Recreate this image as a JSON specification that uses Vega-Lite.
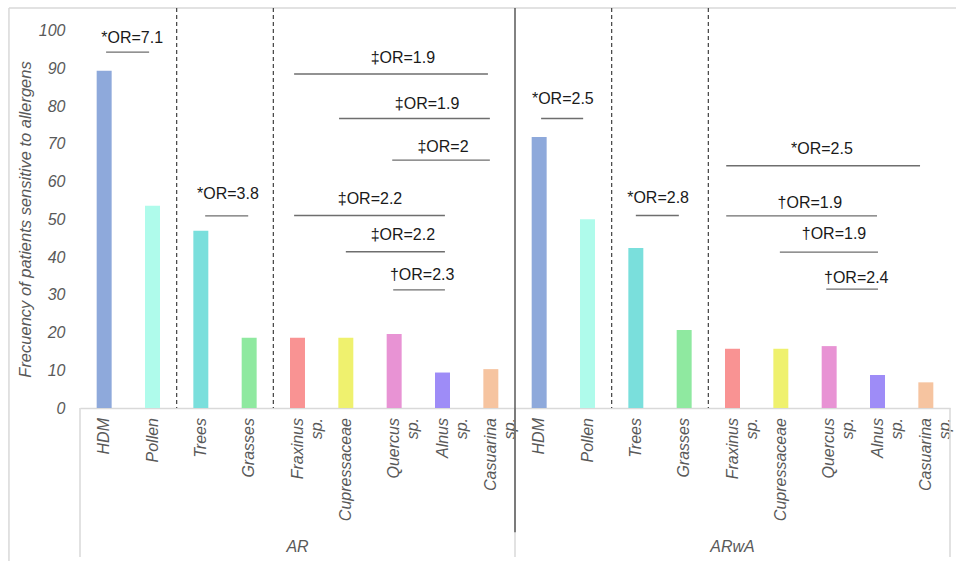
{
  "$schema": "https://vega.github.io/schema/vega-lite/v6.json",
  "width": 870,
  "height": 400,
  "autosize": {"type": "none"},
  "padding": {"left": 80, "top": 8, "right": 6, "bottom": 153},
  "background": "white",
  "config": {"view": {"stroke": null}, "font": "Liberation Sans"},
  "datasets": {
    "bars": [
      {"group": "AR", "key": "AR HDM", "name": "HDM", "sub": "", "value": 89.4},
      {"group": "AR", "key": "AR Pollen", "name": "Pollen", "sub": "", "value": 53.6},
      {"group": "AR", "key": "AR Trees", "name": "Trees", "sub": "", "value": 47.0},
      {"group": "AR", "key": "AR Grasses", "name": "Grasses", "sub": "", "value": 18.6},
      {"group": "AR", "key": "AR Fraxinus", "name": "Fraxinus", "sub": "sp.", "value": 18.6},
      {"group": "AR", "key": "AR Cupressaceae", "name": "Cupressaceae", "sub": "", "value": 18.6},
      {"group": "AR", "key": "AR Quercus", "name": "Quercus", "sub": "sp.", "value": 19.6},
      {"group": "AR", "key": "AR Alnus", "name": "Alnus", "sub": "sp.", "value": 9.4},
      {"group": "AR", "key": "AR Casuarina", "name": "Casuarina", "sub": "sp.", "value": 10.3},
      {"group": "ARwA", "key": "ARwA HDM", "name": "HDM", "sub": "", "value": 71.8},
      {"group": "ARwA", "key": "ARwA Pollen", "name": "Pollen", "sub": "", "value": 50.0},
      {"group": "ARwA", "key": "ARwA Trees", "name": "Trees", "sub": "", "value": 42.4},
      {"group": "ARwA", "key": "ARwA Grasses", "name": "Grasses", "sub": "", "value": 20.7},
      {"group": "ARwA", "key": "ARwA Fraxinus", "name": "Fraxinus", "sub": "sp.", "value": 15.7},
      {"group": "ARwA", "key": "ARwA Cupressaceae", "name": "Cupressaceae", "sub": "", "value": 15.7},
      {"group": "ARwA", "key": "ARwA Quercus", "name": "Quercus", "sub": "sp.", "value": 16.4},
      {"group": "ARwA", "key": "ARwA Alnus", "name": "Alnus", "sub": "sp.", "value": 8.75},
      {"group": "ARwA", "key": "ARwA Casuarina", "name": "Casuarina", "sub": "sp.", "value": 6.8}
    ],
    "notes": [
      {"label": "*OR=7.1", "x1": 0.54, "x2": 1.43, "y": 94.3, "xt": 1.08, "yt": 98.0},
      {"label": "*OR=3.8", "x1": 2.59, "x2": 3.48, "y": 50.9, "xt": 3.06, "yt": 56.7},
      {"label": "‡OR=1.9", "x1": 4.43, "x2": 8.44, "y": 88.5, "xt": 6.68, "yt": 92.7},
      {"label": "‡OR=1.9", "x1": 5.36, "x2": 8.48, "y": 76.7, "xt": 7.18, "yt": 80.6},
      {"label": "‡OR=2", "x1": 6.46, "x2": 8.48, "y": 65.7, "xt": 7.51, "yt": 69.2},
      {"label": "‡OR=2.2", "x1": 4.43, "x2": 7.55, "y": 51.0, "xt": 6.0, "yt": 55.4},
      {"label": "‡OR=2.2", "x1": 5.5, "x2": 7.55, "y": 41.4, "xt": 6.68, "yt": 45.8},
      {"label": "†OR=2.3", "x1": 6.48, "x2": 7.55, "y": 31.3, "xt": 7.08, "yt": 35.2},
      {"label": "*OR=2.5", "x1": 9.54, "x2": 10.41, "y": 76.7, "xt": 9.99, "yt": 81.9},
      {"label": "*OR=2.8", "x1": 11.5, "x2": 12.39, "y": 51.0, "xt": 11.96, "yt": 55.6},
      {"label": "*OR=2.5", "x1": 13.37, "x2": 17.38, "y": 64.2, "xt": 15.35, "yt": 68.6},
      {"label": "†OR=1.9", "x1": 13.37, "x2": 16.49, "y": 50.9, "xt": 15.1, "yt": 54.4},
      {"label": "†OR=1.9", "x1": 14.48, "x2": 16.51, "y": 41.3, "xt": 15.6, "yt": 46.1},
      {"label": "†OR=2.4", "x1": 15.44, "x2": 16.51, "y": 31.5, "xt": 16.06, "yt": 34.5}
    ]
  },
  "layer": [
    {
      "layer": [
        {
          "data": {"name": "bars"},
          "mark": {"type": "bar"},
          "encoding": {
            "x": {"field": "key", "type": "nominal", "sort": null,
                  "scale": {"paddingInner": 0.69, "paddingOuter": 0.345},
                  "axis": {"labels": false, "ticks": false, "title": null, "domainColor": "#d9d9d9", "domainWidth": 1.5}},
            "y": {"field": "value", "type": "quantitative",
                  "scale": {"domain": [0, 106], "nice": false, "zero": false},
                  "axis": {"values": [0, 10, 20, 30, 40, 50, 60, 70, 80, 90, 100], "domain": false, "ticks": false, "grid": false,
                           "labelFont": "Liberation Sans", "labelFontStyle": "italic", "labelFontSize": 16, "labelColor": "#595959", "labelPadding": 15,
                           "title": "Frecuency of patients sensitive to allergens", "titleFont": "Liberation Sans", "titleFontStyle": "italic", "titleFontWeight": "normal",
                           "titleFontSize": 16.5, "titleColor": "#595959", "titleX": -55, "titleY": 211, "titleAngle": 270, "titleAlign": "center", "titleBaseline": "middle"}},
            "color": {"field": "name", "type": "nominal", "legend": null,
                      "scale": {"domain": ["HDM", "Pollen", "Trees", "Grasses", "Fraxinus", "Cupressaceae", "Quercus", "Alnus", "Casuarina"],
                                "range": ["#8EA9DB", "#AFFBEB", "#7ADFDC", "#8FE9A0", "#F99393", "#EFF16E", "#E893D4", "#9E8CF7", "#F6C4A0"]}}
          }
        },
        {
          "data": {"name": "bars"},
          "mark": {"type": "text", "angle": 270, "align": "right", "baseline": "middle", "dx": -10, "font": "Liberation Sans", "fontStyle": "italic", "fontSize": 16, "color": "#595959"},
          "encoding": {
            "x": {"field": "key", "type": "nominal", "sort": null},
            "y": {"datum": 0, "scale": {"domain": [0, 106], "nice": false, "zero": false},
                  "axis": {"values": [0, 10, 20, 30, 40, 50, 60, 70, 80, 90, 100], "domain": false, "ticks": false, "grid": false,
                           "labelFont": "Liberation Sans", "labelFontStyle": "italic", "labelFontSize": 16, "labelColor": "#595959", "labelPadding": 15,
                           "title": "Frecuency of patients sensitive to allergens", "titleFont": "Liberation Sans", "titleFontStyle": "italic", "titleFontWeight": "normal",
                           "titleFontSize": 16.5, "titleColor": "#595959", "titleX": -55, "titleY": 211, "titleAngle": 270, "titleAlign": "center", "titleBaseline": "middle"}},
            "text": {"field": "name"}
          }
        },
        {
          "data": {"name": "bars"},
          "transform": [{"filter": "datum.sub != ''"}],
          "mark": {"type": "text", "angle": 270, "align": "right", "baseline": "middle", "dx": -10, "dy": 19, "font": "Liberation Sans", "fontStyle": "italic", "fontSize": 16, "color": "#595959"},
          "encoding": {
            "x": {"field": "key", "type": "nominal", "sort": null},
            "y": {"datum": 0, "scale": {"domain": [0, 106], "nice": false, "zero": false},
                  "axis": {"values": [0, 10, 20, 30, 40, 50, 60, 70, 80, 90, 100], "domain": false, "ticks": false, "grid": false,
                           "labelFont": "Liberation Sans", "labelFontStyle": "italic", "labelFontSize": 16, "labelColor": "#595959", "labelPadding": 15,
                           "title": "Frecuency of patients sensitive to allergens", "titleFont": "Liberation Sans", "titleFontStyle": "italic", "titleFontWeight": "normal",
                           "titleFontSize": 16.5, "titleColor": "#595959", "titleX": -55, "titleY": 211, "titleAngle": 270, "titleAlign": "center", "titleBaseline": "middle"}},
            "text": {"field": "sub"}
          }
        }
      ]
    },
    {
      "layer": [
        {
          "data": {"values": [
            {"x": -1.47, "x2": 18.2, "y": 106, "y2": 106},
            {"x": -1.47, "x2": -1.47, "y": 106, "y2": -40.6}
          ]},
          "mark": {"type": "rule", "color": "#d9d9d9", "strokeWidth": 1.5},
          "encoding": {
            "x": {"field": "x", "type": "quantitative", "scale": {"domain": [0, 18], "nice": false, "zero": false}, "axis": null},
            "x2": {"field": "x2"},
            "y": {"field": "y", "type": "quantitative", "scale": {"domain": [0, 106], "nice": false, "zero": false}, "axis": null},
            "y2": {"field": "y2"}
          }
        },
        {
          "data": {"values": [{"x": 0}, {"x": 9}, {"x": 18}]},
          "mark": {"type": "rule", "color": "#d9d9d9", "strokeWidth": 1.5},
          "encoding": {
            "x": {"field": "x", "type": "quantitative", "scale": {"domain": [0, 18], "nice": false, "zero": false}, "axis": null},
            "y": {"datum": 0, "scale": {"domain": [0, 106], "nice": false, "zero": false}, "axis": null},
            "y2": {"datum": -39.5}
          }
        },
        {
          "data": {"values": [{"x": 2}, {"x": 4}, {"x": 11}, {"x": 13}]},
          "mark": {"type": "rule", "color": "#404040", "strokeWidth": 1.2, "strokeDash": [4, 3]},
          "encoding": {
            "x": {"field": "x", "type": "quantitative", "scale": {"domain": [0, 18], "nice": false, "zero": false}, "axis": null}
          }
        },
        {
          "data": {"values": [{"x": 9}]},
          "mark": {"type": "rule", "color": "#595959", "strokeWidth": 1.5},
          "encoding": {
            "x": {"field": "x", "type": "quantitative", "scale": {"domain": [0, 18], "nice": false, "zero": false}, "axis": null},
            "y": {"datum": 106, "scale": {"domain": [0, 106], "nice": false, "zero": false}, "axis": null},
            "y2": {"datum": -32.9}
          }
        },
        {
          "data": {"name": "notes"},
          "mark": {"type": "rule", "color": "#6e6e6e", "strokeWidth": 1.4},
          "encoding": {
            "x": {"field": "x1", "type": "quantitative", "scale": {"domain": [0, 18], "nice": false, "zero": false}, "axis": null},
            "x2": {"field": "x2"},
            "y": {"field": "y", "type": "quantitative", "scale": {"domain": [0, 106], "nice": false, "zero": false}, "axis": null}
          }
        },
        {
          "data": {"name": "notes"},
          "mark": {"type": "text", "align": "center", "baseline": "middle", "font": "Liberation Sans", "fontSize": 16, "color": "#1a1a1a"},
          "encoding": {
            "x": {"field": "xt", "type": "quantitative", "scale": {"domain": [0, 18], "nice": false, "zero": false}, "axis": null},
            "y": {"field": "yt", "type": "quantitative", "scale": {"domain": [0, 106], "nice": false, "zero": false}, "axis": null},
            "text": {"field": "label"}
          }
        },
        {
          "data": {"values": [{"group": "AR", "x": 4.5}, {"group": "ARwA", "x": 13.5}]},
          "mark": {"type": "text", "align": "center", "baseline": "middle", "font": "Liberation Sans", "fontStyle": "italic", "fontSize": 16, "color": "#595959"},
          "encoding": {
            "x": {"field": "x", "type": "quantitative", "scale": {"domain": [0, 18], "nice": false, "zero": false}, "axis": null},
            "y": {"datum": -36.8, "scale": {"domain": [0, 106], "nice": false, "zero": false}, "axis": null},
            "text": {"field": "group"}
          }
        }
      ]
    }
  ],
  "resolve": {"scale": {"x": "independent"}, "axis": {"y": "independent"}}
}
